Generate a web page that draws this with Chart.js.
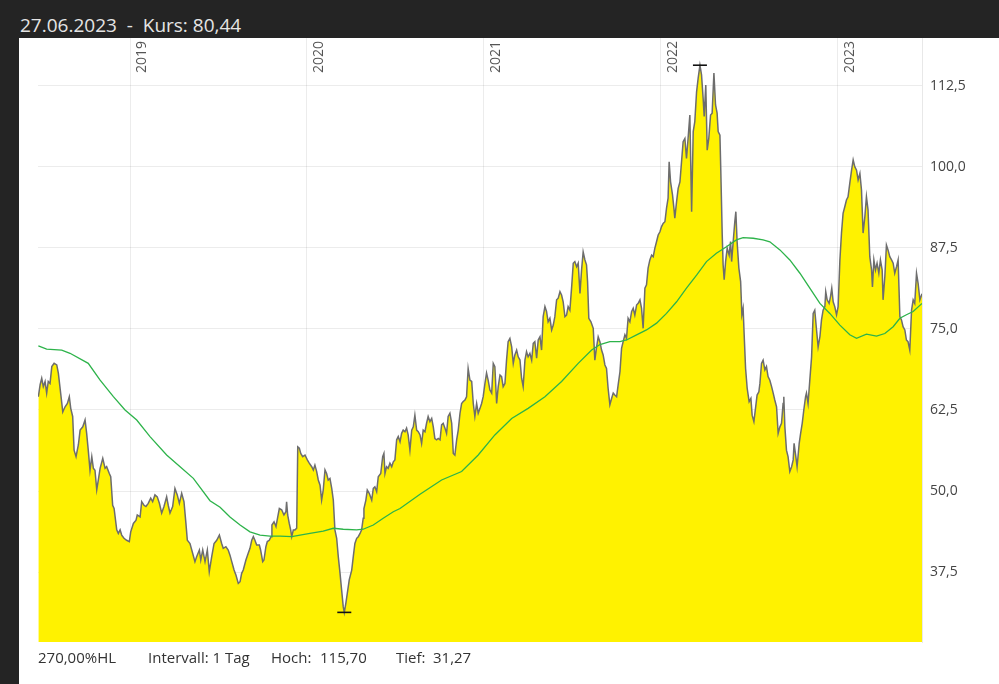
<!DOCTYPE html>
<html>
<head>
<meta charset="utf-8">
<script src="https://cdn.jsdelivr.net/npm/chart.js@4.4.1/dist/chart.umd.min.js"></script>
<style>
html,body{margin:0;padding:0;background:#242424;width:999px;height:684px;overflow:hidden;font-family:"Open Sans",sans-serif;}
#title{position:absolute;left:20px;top:16px;font-size:19px;line-height:19px;color:#e4e4e4;white-space:pre;}
#panel{position:absolute;left:19px;top:38px;width:980px;height:646px;background:#fff;}
#panel canvas{position:absolute;left:0;top:0;}
.ft{position:absolute;top:612px;font-size:15px;line-height:15px;color:#333;white-space:pre;}
</style>
</head>
<body>
<div id="title">27.06.2023  -  Kurs: 80,44</div>
<div id="panel">
  <canvas id="c" width="980" height="646"></canvas>
  <span class="ft" style="left:19px">270,00%HL</span>
  <span class="ft" style="left:129px">Intervall: 1 Tag</span>
  <span class="ft" style="left:252px">Hoch:</span>
  <span class="ft" style="left:301px">115,70</span>
  <span class="ft" style="left:377px">Tief:</span>
  <span class="ft" style="left:414px">31,27</span>
</div>
<script>
// ---- data (x = decimal year) ----
const xMin = 2018.48, xMax = 2023.476;
const yMin = 26.7, yMax = 119.9;
const yearTicks = [2019, 2020, 2021, 2022, 2023];
const yearTickLabels = ['2019', '2020', '2021', '2022', '2023'];
const yTicks = [37.5, 50, 62.5, 75, 87.5, 100, 112.5];

const priceDates = [
2018.482,2018.492,2018.501,2018.510,2018.520,2018.529,2018.538,2018.548,2018.558,2018.571,2018.586,2018.595,2018.608,2018.620,2018.633,2018.646,2018.657,2018.665,2018.676,2018.684,2018.695,2018.708,2018.718,2018.733,2018.746,2018.755,2018.764,2018.774,2018.784,2018.793,2018.802,2018.812,2018.821,2018.831,2018.846,2018.859,2018.868,2018.883,2018.891,2018.902,2018.910,2018.925,2018.934,2018.944,2018.953,2018.966,2018.981,2018.996,
2019.004,2019.019,2019.034,2019.041,2019.057,2019.066,2019.079,2019.090,2019.103,2019.117,2019.128,2019.141,2019.154,2019.166,2019.179,2019.192,2019.207,2019.216,2019.226,2019.241,2019.254,2019.267,2019.279,2019.292,2019.305,2019.316,2019.324,2019.339,2019.354,2019.367,2019.377,2019.392,2019.400,2019.411,2019.424,2019.437,2019.448,2019.462,2019.475,2019.490,
2019.505,2019.518,2019.527,2019.542,2019.555,2019.565,2019.575,2019.588,2019.599,2019.612,2019.622,2019.631,2019.640,2019.655,2019.668,2019.678,2019.688,2019.697,2019.706,2019.716,2019.731,2019.738,2019.750,2019.757,2019.768,2019.776,2019.787,2019.797,2019.802,2019.814,2019.825,2019.835,2019.844,2019.857,2019.870,2019.881,2019.885,2019.891,2019.900,2019.908,2019.914,2019.923,2019.932,2019.942,2019.948,2019.957,2019.965,2019.976,2019.989,
2020.002,2020.013,2020.027,2020.036,2020.045,2020.055,2020.064,2020.074,2020.083,2020.092,2020.102,2020.111,2020.120,2020.130,2020.140,2020.149,2020.158,2020.168,2020.177,2020.187,2020.196,2020.205,2020.211,2020.220,2020.228,2020.239,2020.253,2020.262,2020.271,2020.281,2020.290,2020.300,2020.309,2020.318,2020.322,2020.333,2020.341,2020.352,2020.366,2020.375,2020.384,2020.394,2020.403,2020.417,2020.428,2020.435,2020.441,2020.450,2020.459,2020.469,2020.479,2020.488,2020.497,
2020.507,2020.516,2020.526,2020.535,2020.544,2020.554,2020.563,2020.572,2020.582,2020.592,2020.601,2020.610,2020.620,2020.629,2020.639,2020.648,2020.657,2020.667,2020.676,2020.685,2020.695,2020.705,2020.714,2020.723,2020.733,2020.742,2020.752,2020.761,2020.770,2020.780,2020.789,2020.798,2020.808,2020.818,2020.827,2020.836,2020.846,2020.855,2020.865,2020.874,2020.883,2020.893,2020.902,2020.911,2020.921,2020.931,2020.940,2020.949,2020.959,2020.968,2020.978,2020.987,2020.996,
2021.006,2021.015,2021.024,2021.034,2021.044,2021.053,2021.062,2021.072,2021.081,2021.091,2021.100,2021.109,2021.119,2021.128,2021.137,2021.147,2021.157,2021.166,2021.175,2021.185,2021.194,2021.204,2021.213,2021.222,2021.232,2021.241,2021.250,2021.260,2021.270,2021.279,2021.288,2021.298,2021.307,2021.317,2021.326,2021.335,2021.345,2021.354,2021.363,2021.373,2021.383,2021.392,2021.401,2021.411,2021.420,2021.430,2021.439,2021.448,2021.458,2021.467,2021.476,2021.486,2021.496,2021.505,2021.514,2021.524,2021.533,2021.543,2021.552,2021.561,2021.571,2021.580,2021.586,2021.593,2021.605,2021.618,2021.627,2021.637,2021.646,2021.656,
2021.665,2021.674,2021.684,2021.693,2021.702,2021.712,2021.722,2021.731,2021.740,2021.750,2021.759,2021.769,2021.778,2021.787,2021.797,2021.806,2021.815,2021.825,2021.835,2021.844,2021.853,2021.863,2021.872,2021.882,2021.891,2021.900,2021.910,2021.919,2021.928,2021.938,2021.948,2021.957,2021.966,2021.976,2021.985,2021.995,
2022.004,2022.013,2022.023,2022.032,2022.041,2022.047,2022.055,2022.066,2022.074,2022.079,2022.089,2022.098,2022.108,2022.117,2022.126,2022.136,2022.145,2022.154,2022.164,2022.174,2022.183,2022.192,2022.202,2022.211,2022.221,2022.230,2022.239,2022.245,2022.254,2022.262,2022.271,2022.281,2022.290,2022.300,2022.309,2022.318,2022.324,2022.334,2022.339,2022.347,2022.352,2022.358,2022.366,2022.375,2022.386,2022.394,2022.400,2022.409,2022.418,2022.424,2022.431,2022.441,2022.451,2022.458,2022.465,2022.471,2022.479,2022.488,2022.499,2022.509,2022.516,2022.526,2022.535,2022.544,2022.554,
2022.560,2022.569,2022.578,2022.588,2022.597,2022.606,2022.616,2022.626,2022.635,2022.644,2022.654,2022.663,2022.673,2022.682,2022.691,2022.695,2022.701,2022.710,2022.719,2022.729,2022.739,2022.748,2022.753,2022.763,2022.770,2022.782,2022.790,2022.799,2022.808,2022.818,2022.823,2022.832,2022.842,2022.852,2022.861,2022.870,2022.880,2022.889,2022.899,2022.908,2022.917,2022.927,2022.932,2022.940,2022.951,2022.959,2022.966,2022.974,2022.983,2022.993,
2023.002,2023.012,2023.021,2023.030,2023.040,2023.049,2023.058,2023.068,2023.078,2023.087,2023.096,2023.106,2023.115,2023.125,2023.134,2023.143,2023.153,2023.162,2023.171,2023.181,2023.191,2023.196,2023.204,2023.213,2023.222,2023.232,2023.241,2023.251,2023.256,2023.266,2023.275,2023.284,2023.294,2023.304,2023.313,2023.322,2023.332,2023.341,2023.351,2023.360,2023.369,2023.379,2023.388,2023.397,2023.407,2023.417,2023.426,2023.435,2023.445,2023.454,2023.464,2023.476
];
const priceValues = [
64.55,66.4,67.4,66.1,66.9,65.1,66.9,66.6,69.2,69.7,69.45,68.2,65.1,62.2,63.0,63.5,64.55,62.75,61.5,56.3,55.3,57.1,59.4,59.9,60.96,58.9,56.3,53.2,55.3,53.5,53.2,50.2,51.7,53.5,55.05,53.5,53.75,52.7,52.2,47.8,47.3,44.0,43.45,44.0,43.2,42.7,42.4,42.2,
43.7,45.0,45.5,46.3,46.0,48.35,47.8,47.6,48.1,48.9,48.35,49.4,49.1,48.1,46.6,47.6,49.1,47.8,46.6,47.6,50.4,49.4,48.1,49.65,48.35,45.0,42.4,41.9,40.4,39.1,39.9,40.9,39.35,40.9,39.1,40.9,37.55,39.9,41.9,42.4,
43.2,41.9,41.15,41.4,40.9,40.1,39.1,37.8,37.0,35.75,36.0,37.3,37.8,39.35,40.4,41.15,42.4,42.95,42.4,41.65,41.65,40.9,39.1,39.35,41.4,42.2,42.4,42.95,44.75,45.25,44.5,46.0,47.3,47.1,46.3,46.8,48.35,46.3,45.0,44.0,42.95,44.0,44.0,44.25,56.8,56.6,55.8,55.3,55.55,
54.8,54.3,53.75,53.25,54.0,53.0,51.7,50.9,48.6,50.15,53.25,52.7,51.7,51.95,50.4,48.6,44.0,42.7,39.9,37.3,34.7,32.15,31.27,32.7,34.2,36.3,37.8,39.9,41.9,42.7,42.95,43.45,44.0,45.8,47.3,48.6,50.15,49.65,48.6,50.4,50.65,49.9,52.2,52.7,55.3,55.8,52.7,53.75,53.5,54.3,53.75,54.5,54.8,
57.9,58.4,57.6,58.9,59.4,59.15,59.7,58.65,56.3,59.4,59.9,61.7,59.4,59.15,58.65,57.35,59.4,59.15,60.45,61.5,60.7,61.2,59.9,58.1,57.9,58.1,57.9,60.2,60.45,59.7,58.9,61.5,62.0,60.45,55.8,55.55,57.9,59.4,62.0,63.5,63.8,64.05,64.55,68.9,67.1,66.9,63.5,61.5,63.5,62.0,62.75,63.5,64.55,
66.6,68.2,67.1,65.6,65.1,69.7,69.2,63.5,66.1,67.9,67.65,66.1,66.6,70.2,73.05,73.55,72.25,69.7,71.0,71.75,70.7,70.2,67.4,66.1,70.2,71.5,70.7,71.25,70.2,72.8,73.05,70.5,73.3,73.8,71.75,76.9,78.45,77.7,76.1,76.65,74.85,75.6,76.9,79.5,79.75,80.75,80.25,79.2,76.9,77.15,78.45,77.9,81.5,85.15,85.4,84.6,85.15,80.5,84.1,86.9,85.65,84.9,82.3,76.65,76.1,75.1,70.2,72.25,73.8,73.0,
71.75,71.0,69.45,68.9,65.85,63.3,64.3,65.1,64.8,64.55,66.4,68.4,72.0,73.05,74.1,73.55,76.65,76.1,77.7,78.2,77.15,78.7,78.95,79.5,78.2,75.1,81.3,81.8,84.4,85.65,86.4,86.15,87.45,88.5,89.5,90.0,
90.8,91.3,91.55,93.6,95.2,100.8,97.7,95.7,93.6,92.1,94.65,96.7,97.7,100.8,103.9,104.4,101.3,104.4,108.0,93.1,105.45,107.0,111.6,113.7,115.7,114.2,110.6,107.8,112.65,102.6,104.4,108.0,108.3,114.5,109.6,108.3,105.45,104.9,99.3,89.5,84.9,82.6,85.4,87.45,86.4,88.5,85.4,88.5,91.55,93.1,88.5,84.4,82.3,77.2,78.2,74.1,68.9,65.85,63.8,64.3,61.7,60.7,62.75,64.8,65.3,
66.6,69.7,70.2,68.7,69.2,67.65,67.1,66.1,65.1,64.05,63.0,58.9,59.9,60.45,63.5,64.55,59.9,56.3,55.3,53.0,53.75,54.8,57.35,55.3,53.75,57.35,58.9,60.45,62.5,64.55,65.1,63.5,67.1,70.7,77.4,77.9,74.85,72.25,73.8,76.4,77.9,78.45,80.75,79.5,78.95,80.0,81.3,79.2,78.45,77.2,
78.45,85.65,89.8,92.85,93.9,94.9,95.4,97.5,99.5,101.1,100.05,99.5,98.0,99.0,96.45,89.8,92.3,95.4,93.4,86.15,84.1,81.5,85.65,84.1,85.15,83.6,85.65,84.1,79.5,83.1,87.95,87.2,86.15,85.65,85.15,83.6,84.6,85.65,76.9,76.4,75.35,74.85,73.3,73.05,71.75,77.9,79.5,78.95,83.6,82.05,79.5,80.44
];

const maDates = [
2018.482,2018.529,2018.614,2018.661,2018.764,2018.831,2018.906,2018.972,2019.038,2019.113,2019.207,2019.283,2019.358,2019.452,2019.509,2019.565,2019.622,2019.678,2019.735,2019.791,2019.848,2019.914,2019.961,
2020.017,2020.092,2020.149,2020.205,2020.281,2020.318,2020.375,2020.431,2020.488,2020.526,2020.639,2020.761,2020.874,2020.968,
2021.062,2021.157,2021.250,2021.345,2021.439,2021.533,2021.609,2021.656,2021.712,2021.769,2021.806,2021.863,2021.919,2021.976,
2022.032,2022.089,2022.145,2022.202,2022.258,2022.314,2022.371,2022.427,2022.465,2022.522,2022.578,2022.616,2022.673,2022.729,2022.786,2022.842,2022.899,2022.955,
2023.012,2023.068,2023.106,2023.162,2023.219,2023.266,2023.313,2023.351,2023.388,2023.426,2023.476
];
const maValues = [
72.4,71.9,71.75,71.25,69.7,67.1,64.55,62.5,60.95,58.4,55.55,53.75,51.95,48.5,47.5,46.0,44.75,43.7,43.2,43.05,43.05,42.95,43.2,
43.45,43.8,44.25,44.1,44.0,44.1,44.75,45.8,46.8,47.3,49.5,51.7,53.0,55.55,
58.65,61.2,62.75,64.55,66.9,69.7,71.75,72.6,73.05,73.05,73.3,74.1,74.85,75.9,
77.4,79.2,81.3,83.3,85.4,86.7,87.7,88.75,89.1,89.0,88.75,88.45,87.2,85.65,83.6,81.3,78.95,77.4,
75.6,74.1,73.55,74.2,73.9,74.3,75.35,76.65,77.2,77.7,78.95
];

const highDate = 2022.221, highValue = 115.7;
const lowDate = 2020.211, lowValue = 31.27;

// ---- chart ----
const yearLabels = {
  id: 'yearLabels',
  afterDraw(chart) {
    const ctx = chart.ctx, xs = chart.scales.x;
    ctx.save();
    ctx.font = '14px "Open Sans"';
    ctx.fillStyle = '#555';
    ctx.textAlign = 'left';
    ctx.textBaseline = 'alphabetic';
    yearTicks.forEach((yr, i) => {
      const px = xs.getPixelForValue(yr);
      ctx.save();
      ctx.translate(px + 16, chart.chartArea.top + 35);
      ctx.rotate(-Math.PI / 2);
      ctx.fillText(yearTickLabels[i], 0, 0);
      ctx.restore();
    });
    ctx.restore();
  }
};

function draw() {
  const gridCol = 'rgba(0,0,0,0.075)';
  new Chart(document.getElementById('c'), {
    type: 'line',
    data: {
      datasets: [
        {
          data: [{x: highDate, y: highValue}, {x: lowDate, y: lowValue}],
          showLine: false, pointStyle: 'line', pointRadius: 7, pointHoverRadius: 7,
          pointBorderWidth: 1.6, pointBorderColor: '#111', borderColor: '#111', order: 1
        },
        {
          data: maDates.map((d, i) => ({x: d, y: maValues[i]})),
          borderColor: '#2db34a', borderWidth: 1.3, fill: false, pointRadius: 0, tension: 0, order: 2
        },
        {
          data: priceDates.map((d, i) => ({x: d, y: priceValues[i]})),
          borderColor: '#6d6d6d', borderWidth: 1.5, backgroundColor: '#fff200',
          fill: 'start', pointRadius: 0, tension: 0, order: 3
        }
      ]
    },
    options: {
      responsive: false, animation: false,
      layout: {autoPadding: false, padding: {left: 19, right: 0, top: 0, bottom: 42}},
      plugins: {legend: {display: false}, tooltip: {enabled: false}},
      scales: {
        x: {
          type: 'linear', min: xMin, max: xMax, position: 'top', z: 1,
          afterBuildTicks: s => { s.ticks = yearTicks.map(v => ({value: v})); },
          afterFit: s => { s.height = 0; s.paddingLeft = 0; s.paddingRight = 0; s.paddingTop = 0; s.paddingBottom = 0; },
          grid: {color: gridCol, drawTicks: false},
          border: {display: false},
          ticks: {display: false}
        },
        y: {
          type: 'linear', position: 'right', min: yMin, max: yMax, z: 1,
          afterBuildTicks: s => { s.ticks = yTicks.map(v => ({value: v})); },
          afterFit: s => { s.width = 77; s.paddingTop = 0; s.paddingBottom = 0; },
          grid: {color: gridCol, drawTicks: false},
          border: {display: true, color: 'rgba(0,0,0,0.09)'},
          ticks: {
            padding: 8, color: '#444', font: {family: '"Open Sans"', size: 14},
            callback: v => v.toFixed(1).replace('.', ',')
          }
        }
      }
    },
    plugins: [yearLabels]
  });
}
if (document.fonts && document.fonts.load) {
  document.fonts.load('14px "Open Sans"').then(draw, draw);
} else { draw(); }
</script>
</body>
</html>
